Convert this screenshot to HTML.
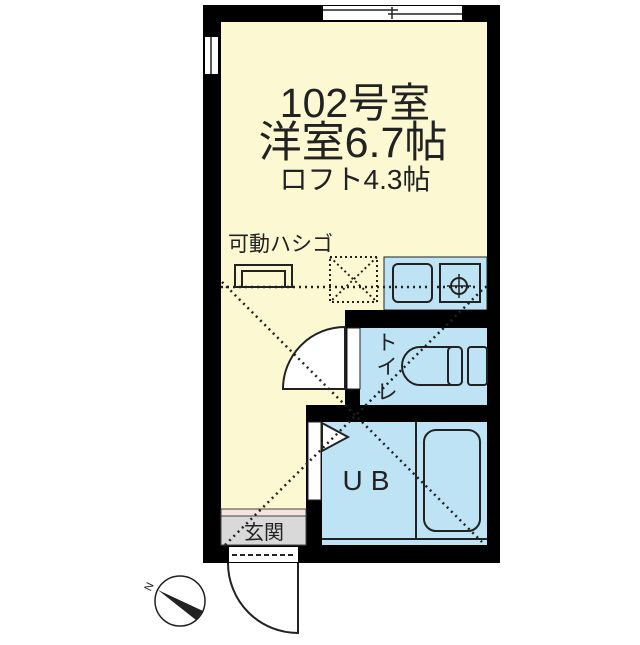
<!DOCTYPE html>
<html><head><meta charset="utf-8"><style>
html,body{margin:0;padding:0;background:#fff;}
svg text{font-family:"Liberation Sans","Noto Sans CJK JP",sans-serif;fill:#222;}
</style></head><body>
<svg width="640" height="640" viewBox="0 0 640 640" xmlns="http://www.w3.org/2000/svg">
<rect x="203" y="5" width="297" height="558" fill="#000"/>
<rect x="221" y="22" width="266" height="523" fill="#fbf8d2"/>
<rect x="384" y="257" width="103" height="53" fill="#bde3f4" stroke="#222" stroke-width="1"/>
<rect x="393" y="264" width="39" height="38" rx="5" fill="#bde3f4" stroke="#222" stroke-width="2"/>
<rect x="440" y="264" width="40" height="38" fill="#bde3f4" stroke="#222" stroke-width="2"/>
<circle cx="459" cy="286" r="8" fill="none" stroke="#222" stroke-width="2"/>
<line x1="459" y1="274" x2="459" y2="298" stroke="#222" stroke-width="1.5"/>
<line x1="447" y1="286" x2="471" y2="286" stroke="#222" stroke-width="1.5"/>
<rect x="345" y="310" width="155" height="18" fill="#000"/>
<rect x="345" y="310" width="15" height="95" fill="#000"/>
<rect x="306" y="405" width="194" height="17" fill="#000"/>
<rect x="306" y="405" width="16" height="142" fill="#000"/>
<rect x="360" y="328" width="127" height="77" fill="#bde3f4"/>
<rect x="347" y="328" width="13" height="61" fill="#fff" stroke="#222" stroke-width="1"/>
<path d="M455 347 L420 347 A18 19 0 0 0 420 385 L455 385 Z" fill="#bde3f4" stroke="#222" stroke-width="2"/>
<rect x="448" y="347" width="14" height="38" rx="4" fill="#bde3f4" stroke="#222" stroke-width="2"/>
<rect x="468" y="347" width="19" height="38" rx="3" fill="#bde3f4" stroke="#222" stroke-width="2"/>
<path d="M345 327 A62 62 0 0 0 283 389 L345 389 Z" fill="#fff" stroke="#222" stroke-width="2"/>
<rect x="322" y="422" width="165" height="123" fill="#bde3f4"/>
<rect x="308" y="422" width="13" height="78" fill="#fff" stroke="#222" stroke-width="1"/>
<path d="M322 423 L348 437 L322 451 Z" fill="#fff" stroke="#222" stroke-width="2"/>
<line x1="416" y1="422" x2="416" y2="539" stroke="#222" stroke-width="2"/>
<line x1="322" y1="539" x2="487" y2="539" stroke="#222" stroke-width="2"/>
<rect x="424" y="430" width="56" height="101" rx="12" fill="#bde3f4" stroke="#222" stroke-width="2"/>
<rect x="221" y="509" width="85" height="7" fill="#f6e3e0" stroke="#444" stroke-width="1"/>
<rect x="221" y="516" width="85" height="29" fill="#d9d9d9" stroke="#444" stroke-width="1"/>
<rect x="323" y="6" width="139" height="14" fill="#fff"/>
<line x1="323" y1="10" x2="398" y2="10" stroke="#222" stroke-width="1.5"/>
<line x1="388" y1="14" x2="462" y2="14" stroke="#222" stroke-width="1.5"/>
<line x1="392" y1="7" x2="392" y2="19" stroke="#222" stroke-width="1.5"/>
<rect x="205" y="37" width="13" height="37" fill="#fff"/>
<line x1="211" y1="37" x2="211" y2="74" stroke="#222" stroke-width="1.5"/>
<rect x="229" y="547" width="69" height="15" fill="#fff"/>
<line x1="232" y1="555" x2="296" y2="555" stroke="#222" stroke-width="2" stroke-dasharray="5,3"/>
<path d="M298 563 L298 633 A70 70 0 0 1 228 563" fill="#fff" stroke="#222" stroke-width="2"/>
<rect x="235" y="265" width="57" height="22" fill="none" stroke="#222" stroke-width="2"/>
<rect x="242" y="271" width="43" height="16" fill="none" stroke="#222" stroke-width="2"/>
<rect x="330" y="257" width="47" height="45" fill="none" stroke="#222" stroke-width="2" stroke-dasharray="2,3"/>
<line x1="330" y1="257" x2="377" y2="302" stroke="#222" stroke-width="2" stroke-dasharray="2,3"/>
<line x1="377" y1="257" x2="330" y2="302" stroke="#222" stroke-width="2" stroke-dasharray="2,3"/>
<g stroke="#222" stroke-width="2.5" stroke-dasharray="2,4">
<line x1="221" y1="287" x2="487" y2="287"/>
<line x1="222" y1="282" x2="482" y2="542"/>
<line x1="225" y1="545" x2="485" y2="287"/>
</g>
<text x="355" y="117" font-size="41" text-anchor="middle">102号室</text>
<text x="353" y="157" font-size="43" text-anchor="middle">洋室6.7帖</text>
<text x="355" y="189" font-size="28" text-anchor="middle">ロフト4.3帖</text>
<text x="228" y="251" font-size="21">可動ハシゴ</text>
<text x="387" y="350" font-size="21" text-anchor="middle">ト</text>
<text x="387" y="374" font-size="21" text-anchor="middle">イ</text>
<text x="387" y="399" font-size="21" text-anchor="middle">レ</text>
<text x="370" y="490" font-size="28" text-anchor="middle" letter-spacing="8">UB</text>
<text x="264" y="539" font-size="20" text-anchor="middle">玄関</text>
<circle cx="180" cy="601" r="25" fill="#fff" stroke="#222" stroke-width="1.5"/>
<path d="M158 590 L203 611 L196 620 Z" fill="#222"/>
<text x="147" y="594" font-size="11" transform="rotate(-65 147 590)">N</text>
</svg>
</body></html>
